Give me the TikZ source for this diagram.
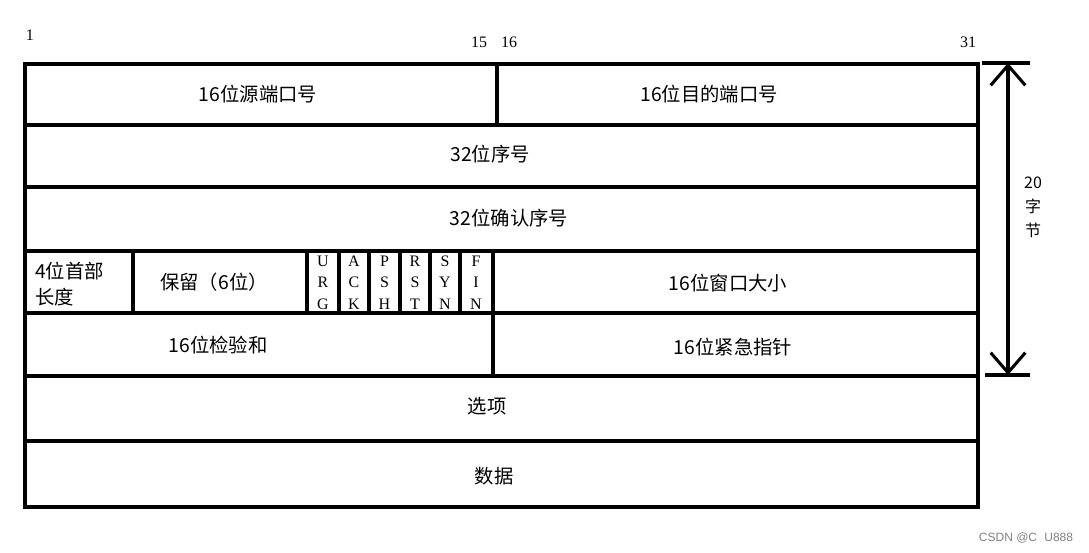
\documentclass[tikz,border=0pt]{standalone}
\usepackage{fontspec}
\setmainfont{Liberation Serif}
\newfontfamily\cjk{Noto Sans CJK SC}
\newfontfamily\markfont{Liberation Sans}
\usetikzlibrary{arrows.meta}

\tikzset{
  rule/.style={line width=2.3pt},
  field/.style={font=\cjk\fontsize{14.5}{19}\selectfont, inner sep=0pt},
  flag/.style={font=\fontsize{12}{13}\selectfont, inner sep=0pt},
  bitno/.style={font=\fontsize{12}{14}\selectfont, inner sep=0pt},
  barb/.tip={Straight Barb[length=15pt, width=26pt]}
}

\begin{document}
\begin{tikzpicture}[x=0.75pt, y=-0.75pt]
  \useasboundingbox (0,0) rectangle (1089,553);

  % Bit numbers
  \node[bitno] (b1) at (30,35) {1};
  \node[bitno] (b15) at (479,42) {15};
  \node[bitno] (b16) at (509,42) {16};
  \node[bitno] (b31) at (968,42) {31};

  % Fields
  \node[field] (srcport) at (258,94) {16位源端口号};
  \node[field] (dstport) at (709,94) {16位目的端口号};
  \node[field] (seq) at (490,154) {32位序号};
  \node[field] (acknum) at (509,218) {32位确认序号};
  \node[field, anchor=west, align=left] (hlen) at (35,284) {4位首部\\长度};
  \node[field] (resv) at (214,282) {保留（6位）};
  \node[field] (win) at (728,283) {16位窗口大小};
  \node[field] (csum) at (218,345) {16位检验和};
  \node[field] (urgp) at (733,347) {16位紧急指针};
  \node[field] (opts) at (487,406) {选项};
  \node[field] (data) at (494,476) {数据};

  % Flags
  \foreach \x/\a/\b/\c/\n in {323/U/R/G/urg, 354/A/C/K/ack, 384.5/P/S/H/psh,
                              415/R/S/T/rst, 445/S/Y/N/syn, 476/F/I/N/fin} {
    \node[flag] (\n1) at (\x,261) {\a};
    \node[flag] (\n2) at (\x,282) {\b};
    \node[flag] (\n3) at (\x,304) {\c};
  }

  % Rows
  \foreach \y in {125,187,251,313,376,441} {
    \draw[rule] (25,\y) -- (980,\y);
  }
  \draw[rule] (25,64) rectangle (978,507);

  % Field dividers
  \draw[rule] (497,64) -- (497,125);
  \draw[rule] (133,251) -- (133,313);
  \foreach \x in {307,339,369,400,430,460} {
    \draw[rule] (\x,251) -- (\x,313);
  }
  \draw[rule] (493,251) -- (493,376);

  % Header length
  \coordinate (top) at (1008,63);
  \coordinate (bot) at (1008,375);
  \draw[rule] (982,63) -- (1030,63);
  \draw[rule] (985,375) -- (1030,375);
  \draw[rule, barb-barb] (top) -- (bot);
  \node[font=\cjk\fontsize{12}{18}\selectfont, align=center, inner sep=0pt] (len) at (1033,207) {20\\字\\节};

  \node[font=\markfont\fontsize{9}{10}\selectfont, text=gray, inner sep=0pt] (mark) at (1026,538) {CSDN @C\hspace{0.6em}U888};
\end{tikzpicture}
\end{document}
